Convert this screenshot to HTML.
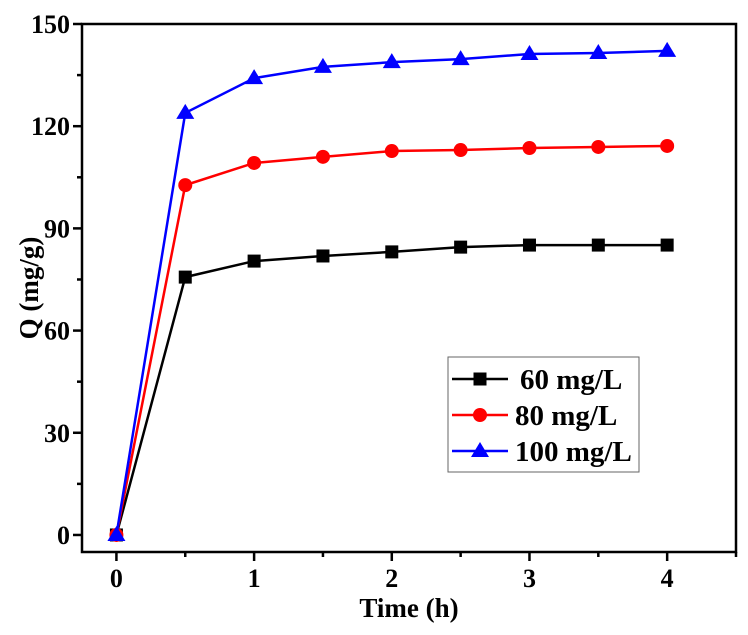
<!DOCTYPE html>
<html><head><meta charset="utf-8"><style>
body{margin:0;background:#fff;}
svg text{font-family:"Liberation Serif",serif;font-weight:bold;fill:#000;}
</style></head><body>
<svg id="chart" width="748" height="630" xmlns="http://www.w3.org/2000/svg"></svg>
<script>
const times = [0,0.5,1,1.5,2,2.5,3,3.5,4];
const s60 = [0,75.7,80.4,81.9,83.1,84.5,85.1,85.1,85.1];
const s80 = [0,102.7,109.2,111,112.7,113,113.6,113.9,114.2];
const s100 = [0,123.9,134.1,137.4,138.8,139.7,141.2,141.5,142.1];
const seriesNames = ["60 mg/L","80 mg/L","100 mg/L"];
const xTicks = [0,1,2,3,4];
const yTicks = [0,30,60,90,120,150];

const L=82,R=736,T=24,B=552;
const xMin=-0.25,xMax=4.5,yMin=-5,yMax=150;
const X=v=>L+(v-xMin)/(xMax-xMin)*(R-L);
const Y=v=>B-(v-yMin)/(yMax-yMin)*(B-T);
const svg=document.getElementById('chart');
const NS="http://www.w3.org/2000/svg";
function mk(tag,attrs,parent){const e=document.createElementNS(NS,tag);for(const k in attrs)e.setAttribute(k,attrs[k]);(parent||svg).appendChild(e);return e;}

const frame=mk('rect',{x:L,y:T,width:R-L,height:B-T,fill:'none',stroke:'#000','stroke-width':2.5});



for(let v=0;v<=150;v+=15){
  const major=v%30===0;
  const t=mk('line',{x1:L,x2:L-(major?9:5),y1:Y(v),y2:Y(v),stroke:'#000','stroke-width':2.5});
  
  
}
yTicks.forEach(v=>{
  const t=mk('text',{x:L-12,y:Y(v)+9,'text-anchor':'end','font-size':26});
  t.textContent=v;
  
  
});
for(let v=0;v<=4.5;v+=0.5){
  const major=v%1===0;
  const t=mk('line',{x1:X(v),x2:X(v),y1:B,y2:B+(major?9:5),stroke:'#000','stroke-width':2.5});
  
  
}
xTicks.forEach(v=>{
  const t=mk('text',{x:X(v),y:B+35,'text-anchor':'middle','font-size':26});
  t.textContent=v;
  
  
});
const xt=mk('text',{x:409,y:617,'text-anchor':'middle','font-size':27});
xt.textContent='Time (h)';


const yt=mk('text',{x:0,y:0,'text-anchor':'middle','font-size':27,transform:'translate(38,288) rotate(-90)'});
yt.textContent='Q (mg/g)';



function marker(type,cx,cy,color,g){
  let m;
  if(type==='square') m=mk('rect',{x:cx-6.5,y:cy-6.5,width:13,height:13,fill:color},g);
  else if(type==='circle') m=mk('circle',{cx:cx,cy:cy,r:7,fill:color},g);
  else m=mk('polygon',{points:`${cx},${cy-9} ${cx-9},${cy+6} ${cx+9},${cy+6}`,fill:color},g);
  return m;
}
const allSeries=[[s60,'#000','square'],[s80,'#f00','circle'],[s100,'#00f','triangle']];
allSeries.forEach(([vals,color,type],i)=>{
  const g=mk('g',{});
  
  
  const pl=mk('polyline',{points:vals.map((v,j)=>X(times[j])+','+Y(v)).join(' '),fill:'none',stroke:color,'stroke-width':2.5},g);
  
  
  vals.forEach((v,j)=>{
    const m=marker(type,X(times[j]),Y(v),color,g);
    
    
  });
});

const lg=mk('g',{});


mk('rect',{x:448,y:357,width:191,height:115,fill:'#fff',stroke:'#666','stroke-width':1},lg);
allSeries.forEach(([vals,color,type],i)=>{
  const cy=379+i*36;
  const e=mk('g',{},lg);
  
  
  mk('line',{x1:452,x2:508,y1:cy,y2:cy,stroke:color,'stroke-width':2.5},e);
  marker(type,480,cy,color,e);
  const t=mk('text',{x:i===0?520:515,y:cy+10,'font-size':29},e);
  t.textContent=seriesNames[i];
});
</script>
</body></html>
